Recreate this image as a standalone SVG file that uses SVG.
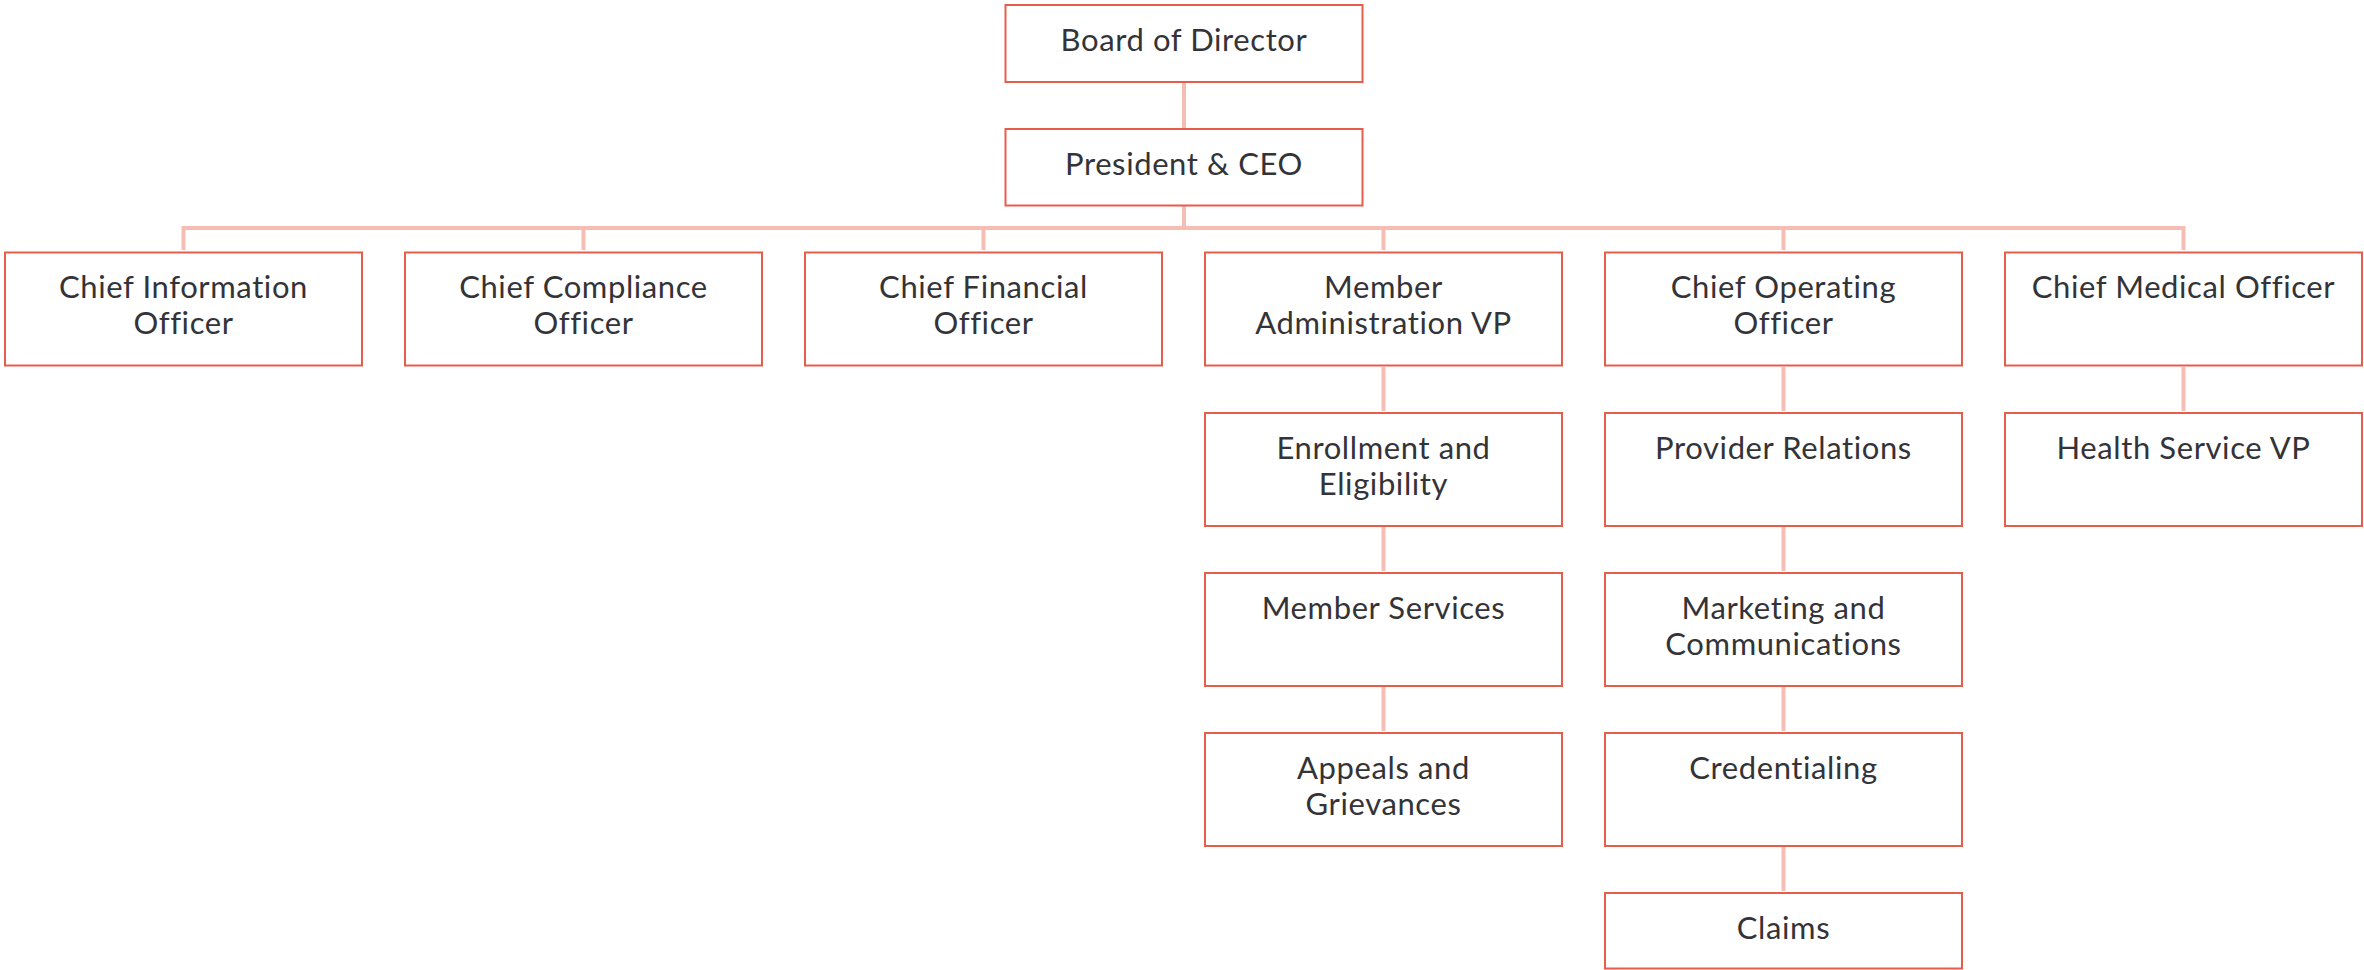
<svg xmlns="http://www.w3.org/2000/svg" width="2364" height="970" viewBox="0 0 2364 970">
  <style>
    .box { fill: #ffffff; stroke: #E85D4A; stroke-width: 2; }
    .lbl { font-family: Lato, "Open Sans", "Liberation Sans", sans-serif; font-size: 31px; font-weight: 400; letter-spacing: 0.6px; fill: #333338; text-anchor: middle; }
    .link { fill: none; stroke: #F5BDB3; stroke-width: 4; }
  </style>
  <rect width="2364" height="970" fill="#ffffff"/>

  <!-- reporting lines -->
  <g id="connectors">
    <path class="link" d="M1184,83 V128"/>
    <path class="link" d="M1184,206 V228"/>
    <path class="link" d="M183.5,250 V228 H2183.5 V250"/>
    <path class="link" d="M583.5,228 V250 M983.5,228 V250 M1383.5,228 V250 M1783.5,228 V250"/>
    <path class="link" d="M1383.5,367 V411 M1383.5,527 V571 M1383.5,687 V731"/>
    <path class="link" d="M1783.5,367 V411 M1783.5,527 V571 M1783.5,687 V731 M1783.5,847 V891"/>
    <path class="link" d="M2183.5,367 V411"/>
  </g>

  <g id="board">
    <rect class="box" x="1005.5" y="5" width="357" height="77"/>
    <text class="lbl" x="1184" y="50.5">Board of Director</text>
  </g>
  <g id="ceo">
    <rect class="box" x="1005.5" y="129" width="357" height="76.5"/>
    <text class="lbl" x="1184" y="174.5">President &amp; CEO</text>
  </g>

  <g id="cio">
    <rect class="box" x="5" y="252.5" width="357" height="113"/>
    <text class="lbl" x="183.5" y="298">Chief Information</text>
    <text class="lbl" x="183.5" y="334">Officer</text>
  </g>
  <g id="cco">
    <rect class="box" x="405" y="252.5" width="357" height="113"/>
    <text class="lbl" x="583.5" y="298">Chief Compliance</text>
    <text class="lbl" x="583.5" y="334">Officer</text>
  </g>
  <g id="cfo">
    <rect class="box" x="805" y="252.5" width="357" height="113"/>
    <text class="lbl" x="983.5" y="298">Chief Financial</text>
    <text class="lbl" x="983.5" y="334">Officer</text>
  </g>
  <g id="member-admin-vp">
    <rect class="box" x="1205" y="252.5" width="357" height="113"/>
    <text class="lbl" x="1383.5" y="298">Member</text>
    <text class="lbl" x="1383.5" y="334">Administration VP</text>
  </g>
  <g id="coo">
    <rect class="box" x="1605" y="252.5" width="357" height="113"/>
    <text class="lbl" x="1783.5" y="298">Chief Operating</text>
    <text class="lbl" x="1783.5" y="334">Officer</text>
  </g>
  <g id="cmo">
    <rect class="box" x="2005" y="252.5" width="357" height="113"/>
    <text class="lbl" x="2183.5" y="298">Chief Medical Officer</text>
  </g>

  <g id="enrollment">
    <rect class="box" x="1205" y="413" width="357" height="113"/>
    <text class="lbl" x="1383.5" y="458.5">Enrollment and</text>
    <text class="lbl" x="1383.5" y="494.5">Eligibility</text>
  </g>
  <g id="member-services">
    <rect class="box" x="1205" y="573" width="357" height="113"/>
    <text class="lbl" x="1383.5" y="618.5">Member Services</text>
  </g>
  <g id="appeals">
    <rect class="box" x="1205" y="733" width="357" height="113"/>
    <text class="lbl" x="1383.5" y="778.5">Appeals and</text>
    <text class="lbl" x="1383.5" y="814.5">Grievances</text>
  </g>

  <g id="provider-relations">
    <rect class="box" x="1605" y="413" width="357" height="113"/>
    <text class="lbl" x="1783.5" y="458.5">Provider Relations</text>
  </g>
  <g id="marketing">
    <rect class="box" x="1605" y="573" width="357" height="113"/>
    <text class="lbl" x="1783.5" y="618.5">Marketing and</text>
    <text class="lbl" x="1783.5" y="654.5">Communications</text>
  </g>
  <g id="credentialing">
    <rect class="box" x="1605" y="733" width="357" height="113"/>
    <text class="lbl" x="1783.5" y="778.5">Credentialing</text>
  </g>
  <g id="claims">
    <rect class="box" x="1605" y="893" width="357" height="75.5"/>
    <text class="lbl" x="1783.5" y="938.5">Claims</text>
  </g>

  <g id="health-service-vp">
    <rect class="box" x="2005" y="413" width="357" height="113"/>
    <text class="lbl" x="2183.5" y="458.5">Health Service VP</text>
  </g>
</svg>
